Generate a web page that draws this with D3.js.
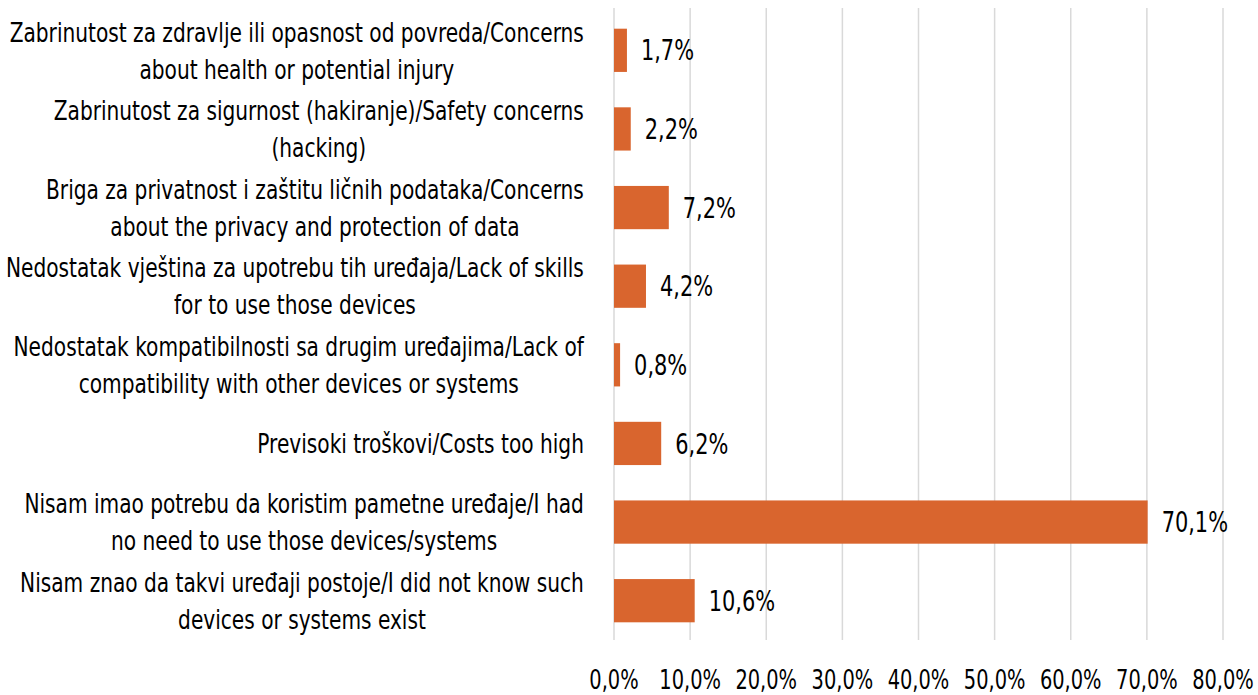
<!DOCTYPE html>
<html>
<head>
<meta charset="utf-8">
<script src="https://cdn.jsdelivr.net/npm/d3@7"></script>
<style>
  html, body { margin: 0; padding: 0; background: #fff; }
  svg text { font-family: "DejaVu Sans Condensed", "Liberation Sans Narrow", "Roboto Condensed", sans-serif; fill: #000; }
</style>
</head>
<body>
<svg id="chart" width="1258" height="695"></svg>
<script>
// Reasons for not using smart devices (share of respondents, %)
const categories = [
  ["Zabrinutost za zdravlje ili opasnost od povreda/Concerns", "about health or potential injury"],
  ["Zabrinutost za sigurnost (hakiranje)/Safety concerns", "(hacking)"],
  ["Briga za privatnost i zaštitu ličnih podataka/Concerns", "about the privacy and protection of data"],
  ["Nedostatak vještina za upotrebu tih uređaja/Lack of skills", "for to use those devices"],
  ["Nedostatak kompatibilnosti sa drugim uređajima/Lack of", "compatibility with other devices or systems"],
  ["Previsoki troškovi/Costs too high"],
  ["Nisam imao potrebu da koristim pametne uređaje/I had", "no need to use those devices/systems"],
  ["Nisam znao da takvi uređaji postoje/I did not know such", "devices or systems exist"]
];
const values = [1.7, 2.2, 7.2, 4.2, 0.8, 6.2, 70.1, 10.6];
const ticks = [0, 10, 20, 30, 40, 50, 60, 70, 80];

const fmt = v => v.toFixed(1).replace(".", ",") + "%";

// narrow the glyphs horizontally to get a condensed look
const SX = 0.83;
const place = (px, py) => `translate(${px},${py}) scale(${SX},1)`;

const svg = d3.select("#chart");
const x = d3.scaleLinear().domain([0, 80]).range([614, 1223]);
const y = d3.scaleBand().domain(d3.range(categories.length)).range([11, 640]).paddingInner(0.45).paddingOuter(0.225);

// vertical gridlines
svg.append("g").selectAll("line").data(ticks).join("line")
  .attr("x1", d => x(d)).attr("x2", d => x(d))
  .attr("y1", 8).attr("y2", 640)
  .attr("stroke", "#d9d9d9").attr("stroke-width", 1.5);

// bars
svg.append("g").selectAll("rect").data(values).join("rect")
  .attr("x", x(0))
  .attr("y", (d, i) => y(i))
  .attr("width", d => x(d) - x(0))
  .attr("height", y.bandwidth())
  .attr("fill", "#d9652e");

// value labels
svg.append("g").selectAll("text").data(values).join("text")
  .attr("transform", (d, i) => place(x(d) + 14, y(i) + y.bandwidth() / 2))
  .attr("dy", "0.36em")
  .attr("font-size", 28)
  .text(fmt);

// x axis tick labels
svg.append("g").selectAll("text").data(ticks).join("text")
  .attr("transform", d => place(x(d), 680))
  .attr("dy", "0.36em")
  .attr("text-anchor", "middle")
  .attr("font-size", 26)
  .text(d => fmt(d));

// category labels: wrapped lines centred within a right-aligned block
const right = 584;
const lineH = 37;
categories.forEach((lines, i) => {
  const g = svg.append("g");
  const cy = y(i) + y.bandwidth() / 2;
  const texts = lines.map(t => g.append("text")
    .attr("dy", "0.36em")
    .attr("text-anchor", "middle")
    .attr("font-size", 27)
    .text(t));
  const w = d3.max(texts, t => t.node().getComputedTextLength()) * SX;
  texts.forEach((t, k) => t.attr("transform",
    place(right - w / 2, cy + (k - (lines.length - 1) / 2) * lineH)));
});
</script>
</body>
</html>
